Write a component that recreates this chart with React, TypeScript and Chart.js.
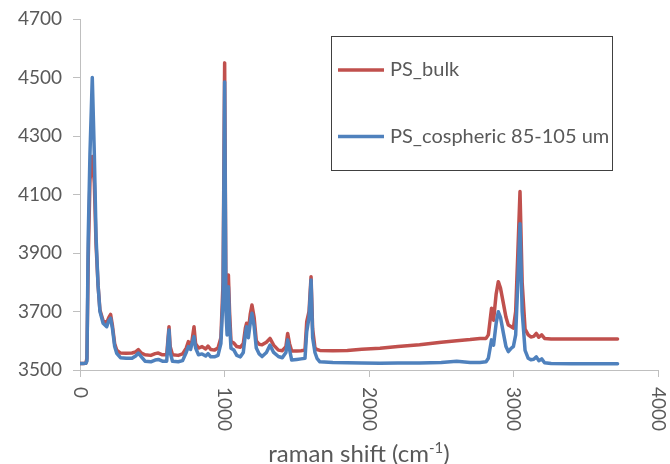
import React, { useEffect, useRef } from 'react';
import { Chart, registerables } from 'chart.js';

Chart.register(...registerables);

const FONT = 'Lato, "Open Sans", sans-serif';
const TEXT = '#595959';
const AXIS = '#BFBFBF';

const seriesLabels = ['PS_bulk', 'PS_cospheric 85-105 um'];
const seriesColors = ['#C0504D', '#4F81BD'];

const ramanShift = [
  0, 20, 40, 48, 57, 69, 85, 99, 111, 125, 138, 160, 185, 200, 212, 225, 240, 254, 280, 320,
  360, 385, 404, 425, 450, 490, 520, 542, 570, 600, 608, 616, 624, 640, 680, 710, 735, 750, 765, 775,
  789, 800, 820, 845, 870, 886, 905, 930, 955, 975, 990, 1001, 1010, 1018, 1027, 1035, 1045, 1065, 1085, 1110,
  1130, 1145, 1153, 1165, 1178, 1190, 1205, 1220, 1240, 1260, 1290, 1315, 1340, 1373, 1400, 1425, 1437, 1450, 1465, 1500,
  1530, 1557, 1569, 1585, 1599, 1610, 1626, 1640, 1660, 1750, 1850, 1950, 2076, 2200, 2350, 2500, 2607, 2700, 2768, 2810,
  2826, 2848, 2862, 2880, 2895, 2910, 2930, 2948, 2964, 2985, 2999, 3015, 3030, 3045, 3060, 3080, 3102, 3120, 3140, 3158,
  3175, 3195, 3215, 3260, 3400, 3550, 3720,
];

const psBulk = [
  3522, 3522, 3523, 3540, 3880, 4150, 4230, 4140, 3930, 3790, 3705, 3668, 3662, 3680, 3690, 3650, 3590, 3568, 3558, 3557,
  3558, 3562, 3570, 3558, 3552, 3550, 3556, 3558, 3552, 3552, 3600, 3648, 3580, 3552, 3550, 3555, 3575, 3597, 3585, 3600,
  3648, 3590, 3575, 3580, 3572, 3582, 3570, 3568, 3575, 3610, 3800, 4550, 3750, 3650, 3825, 3700, 3597, 3592, 3580, 3578,
  3590, 3645, 3660, 3635, 3690, 3722, 3680, 3600, 3588, 3586, 3595, 3608, 3585, 3568, 3566, 3580, 3625, 3590, 3565, 3565,
  3566, 3568, 3665, 3700, 3819, 3640, 3575, 3570, 3567, 3566, 3567, 3571, 3574, 3580, 3586, 3595, 3600, 3604, 3608, 3608,
  3620, 3711, 3670, 3760, 3802, 3780, 3728, 3680, 3654, 3648, 3643, 3700, 3900, 4110, 3800, 3640, 3620, 3613, 3615, 3625,
  3612, 3620, 3608, 3606, 3606, 3606, 3606,
];

const psCospheric = [
  3522, 3522, 3523, 3530, 3956, 4240, 4500, 4240, 3956, 3790, 3700, 3660, 3648, 3670, 3677, 3640, 3580, 3557, 3542, 3540,
  3540, 3548, 3558, 3545, 3530, 3528, 3534, 3536, 3530, 3530, 3590, 3637, 3560, 3530, 3528, 3532, 3560, 3580, 3570, 3590,
  3614, 3575, 3552, 3555, 3548, 3556, 3545, 3545, 3550, 3590, 3750, 4485, 3700, 3620, 3785, 3660, 3574, 3568, 3550, 3545,
  3560, 3625, 3648, 3610, 3660, 3694, 3650, 3575, 3555, 3546, 3560, 3585, 3560, 3546, 3542, 3560, 3603, 3570, 3534, 3536,
  3538, 3540, 3631, 3680, 3808, 3610, 3560, 3540, 3528, 3526, 3525, 3524, 3523, 3524, 3524, 3526, 3530, 3526, 3526, 3528,
  3540, 3603, 3585, 3660, 3699, 3680, 3626, 3580, 3563, 3575, 3580, 3620, 3800, 4000, 3700, 3567, 3540, 3535, 3537, 3545,
  3532, 3538, 3525, 3522, 3521, 3521, 3521,
];

const xMin = 0;
const xMax = 4000;
const xStep = 1000;
const yMin = 3500;
const yMax = 4700;
const yStep = 200;
const xTitleMain = 'raman shift (cm';
const xTitleSup = '-1';
const xTitleEnd = ')';

export default function App() {
  const ref = useRef<HTMLCanvasElement | null>(null);

  useEffect(() => {
    document.body.style.margin = '0';
    const canvas = ref.current;
    if (!canvas) return;

    const overlay = {
      id: 'overlay',
      afterDraw(chart: any) {
        const ctx = chart.ctx as CanvasRenderingContext2D;
        const xs = chart.scales.x;
        ctx.save();
        // rotated x tick labels (reading top to bottom)
        ctx.fillStyle = TEXT;
        ctx.font = `19px ${FONT}`;
        ctx.textAlign = 'left';
        ctx.textBaseline = 'middle';
        for (const t of xs.ticks) {
          const px = xs.getPixelForValue(t.value);
          ctx.save();
          ctx.translate(px, xs.top + 17);
          ctx.rotate(Math.PI / 2);
          ctx.fillText(String(t.value), 0, 0);
          ctx.restore();
        }
        // x axis title with superscript
        const mainFont = `24px ${FONT}`;
        const supFont = `15px ${FONT}`;
        ctx.textBaseline = 'alphabetic';
        ctx.font = mainFont;
        const w1 = ctx.measureText(xTitleMain).width;
        const w3 = ctx.measureText(xTitleEnd).width;
        ctx.font = supFont;
        const w2 = ctx.measureText(xTitleSup).width;
        const total = w1 + w2 + w3;
        const x0 = 359 - total / 2;
        const base = 462;
        ctx.font = mainFont;
        ctx.fillText(xTitleMain, x0, base);
        ctx.font = supFont;
        ctx.fillText(xTitleSup, x0 + w1, base - 9);
        ctx.font = mainFont;
        ctx.fillText(xTitleEnd, x0 + w1 + w2, base);

        // legend box
        const bx = 331.5, by = 36.5, bw = 281, bh = 134;
        ctx.fillStyle = '#FFFFFF';
        ctx.fillRect(bx, by, bw, bh);
        ctx.strokeStyle = '#404040';
        ctx.lineWidth = 1;
        ctx.strokeRect(bx, by, bw, bh);
        const rows = [70, 136.5];
        chart.data.datasets.forEach((ds: any, i: number) => {
          const y = rows[i];
          ctx.strokeStyle = ds.borderColor;
          ctx.lineWidth = 3.5;
          ctx.beginPath();
          ctx.moveTo(338, y);
          ctx.lineTo(384, y);
          ctx.stroke();
          ctx.fillStyle = TEXT;
          ctx.font = `20px ${FONT}`;
          ctx.textBaseline = 'middle';
          ctx.textAlign = 'left';
          ctx.fillText(ds.label, 390, y);
        });
        ctx.restore();
      },
    };

    const makeData = (vals: number[]) => ramanShift.map((x, i) => ({ x, y: vals[i] }));

    const chart = new Chart(canvas, {
      type: 'line',
      data: {
        datasets: [
          {
            label: seriesLabels[0],
            data: makeData(psBulk),
            borderColor: seriesColors[0],
            backgroundColor: seriesColors[0],
            borderWidth: 3.5,
            pointRadius: 0,
            tension: 0,
            borderJoinStyle: 'round',
            borderCapStyle: 'round',
            order: 1,
          },
          {
            label: seriesLabels[1],
            data: makeData(psCospheric),
            borderColor: seriesColors[1],
            backgroundColor: seriesColors[1],
            borderWidth: 3.5,
            pointRadius: 0,
            tension: 0,
            borderJoinStyle: 'round',
            borderCapStyle: 'round',
            order: 0,
          },
        ],
      },
      options: {
        responsive: false,
        maintainAspectRatio: false,
        animation: false,
        layout: { padding: { top: 19, right: 12, left: 0, bottom: 0 } },
        plugins: { legend: { display: false }, tooltip: { enabled: false } },
        scales: {
          x: {
            type: 'linear',
            min: xMin,
            max: xMax,
            ticks: {
              stepSize: xStep,
              color: 'rgba(0,0,0,0)',
              font: { family: FONT, size: 19 },
              callback: (v: any) => String(v),
              maxRotation: 0,
              minRotation: 0,
            },
            grid: { display: true, drawOnChartArea: false, drawTicks: true, tickLength: 7, color: AXIS },
            border: { display: true, color: AXIS, width: 1 },
            afterFit: (s: any) => { s.height = 94; s.paddingLeft = 0; s.paddingRight = 0; },
          },
          y: {
            type: 'linear',
            min: yMin,
            max: yMax,
            ticks: {
              stepSize: yStep,
              color: TEXT,
              font: { family: FONT, size: 19 },
              padding: 11,
              callback: (v: any) => String(v),
            },
            grid: { display: true, drawOnChartArea: false, drawTicks: true, tickLength: 7, color: AXIS },
            border: { display: true, color: AXIS, width: 1 },
            afterFit: (s: any) => { s.width = 80; s.paddingTop = 0; s.paddingBottom = 0; },
          },
        },
      } as any,
      plugins: [overlay],
    });

    return () => chart.destroy();
  }, []);

  return (
    <div style={{ width: 670, height: 464 }}>
      <canvas ref={ref} width={670} height={464} style={{ display: 'block' }} />
    </div>
  );
}
